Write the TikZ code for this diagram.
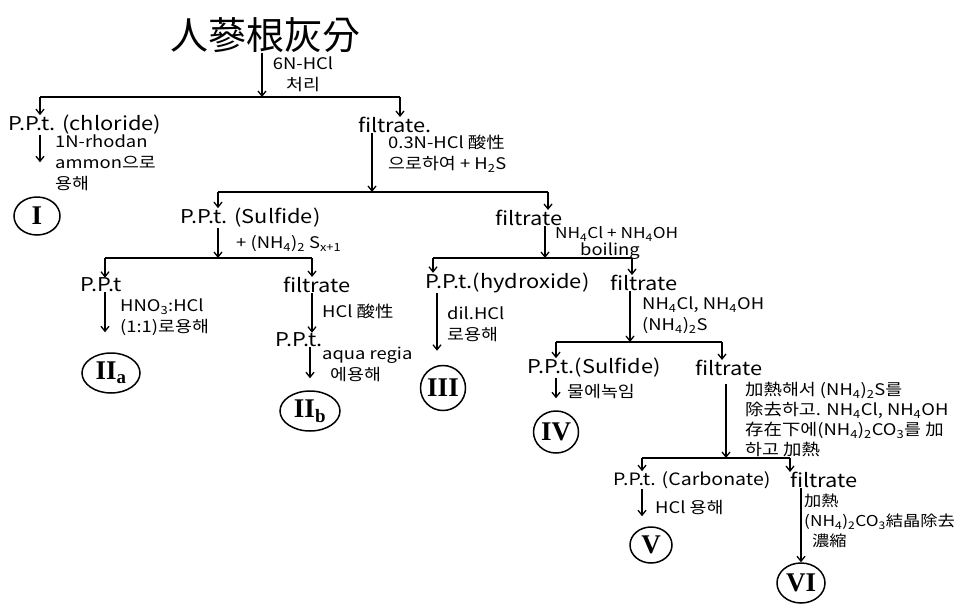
\documentclass[tikz,border=0pt]{standalone}
\usepackage{fontspec}
\setmainfont{Noto Sans CJK KR}[FakeStretch=1.15]
\newfontfamily\titlefont{Noto Sans CJK KR}
\newfontfamily\romanfont{Liberation Serif}
\usetikzlibrary{arrows.meta,shapes.geometric}
\begin{document}
\begin{tikzpicture}[x=1pt,y=-1pt,
  main/.style={font=\fontsize{19}{21}\selectfont, inner sep=0pt, anchor=west},
  lab/.style={font=\fontsize{16}{21}\selectfont, inner sep=0pt, anchor=north west, align=left},
  flow/.style={line width=1.3pt, -{Straight Barb[length=5pt,width=8pt]}},
  bar/.style={line width=1.6pt},
  rom/.style={ellipse, draw, line width=1.5pt, inner sep=0pt, font=\fontsize{27}{28}\romanfont\bfseries\selectfont}
]
\useasboundingbox (0,0) rectangle (966,608);

% title
\node[inner sep=0pt, font=\fontsize{38}{40}\titlefont\selectfont] (title) at (265,35) {人蔘根灰分};
\coordinate (b1) at (262,97);
\coordinate (b1l) at (40,97);
\coordinate (b1r) at (400,97);
\draw[flow] (title.south -| b1) -- (b1);
\node[lab, anchor=north, align=center] (l0) at (303,57) {6N-HCl\\처리};
\draw[bar] (b1l) -- (b1r);

\node[main] (ppt1) at (8,125) {P.P.t. (chloride)};
\node[main] (fil1) at (358,125) {filtrate.};
\draw[flow] (b1l) -- (ppt1.north -| b1l);
\draw[flow] (b1r) -- (fil1.north -| b1r);

% chloride branch
\node[rom, minimum width=46pt, minimum height=38pt] (r1) at (37,216) {I};
\draw[flow, shorten >=34pt] (ppt1.south -| b1l) -- (r1.north -| b1l);
\node[lab] (l1) at (55,135) {1N-rhodan\\ammon으로\\용해};

% filtrate 1
\coordinate (b2) at (372,192);
\coordinate (b2l) at (218,192);
\coordinate (b2r) at (548,192);
\draw[flow] (fil1.south -| b2) -- (b2);
\node[lab] (l2) at (388,135) {0.3N-HCl 酸性\\으로하여 + H\textsubscript{2}S};
\draw[bar] (b2l) -- (b2r);

\node[main] (ppt2) at (180,218) {P.P.t. (Sulfide)};
\node[main] (fil2) at (495,218) {filtrate};
\draw[flow] (b2l) -- (ppt2.north -| b2l);
\draw[flow] (b2r) -- (fil2.north -| b2r);

% sulfide branch
\coordinate (b3) at (218,258);
\coordinate (b3l) at (105,258);
\coordinate (b3r) at (312,258);
\draw[flow] (ppt2.south -| b3) -- (b3);
\node[lab, anchor=west] (l3) at (236,244) {+ (NH\textsubscript{4})\textsubscript{2} S\textsubscript{x+1}};
\draw[bar] (b3l) -- (b3r);

\node[main] (ppt3) at (80,285) {P.P.t};
\node[main] (fil3) at (283,285) {filtrate};
\draw[flow] (b3l) -- (ppt3.north -| b3l);
\draw[flow] (b3r) -- (fil3.north -| b3r);

\node[rom, minimum width=58pt, minimum height=40pt] (r2a) at (111,373) {II\textsubscript{a}};
\draw[flow, shorten >=20pt] (ppt3.south -| b3l) -- (r2a.north -| b3l);
\node[lab] (l4) at (120,299) {HNO\textsubscript{3}:HCl\\(1:1)로용해};

\node[main] (ppt3b) at (275,340) {P.P.t.};
\draw[flow] (fil3.south -| b3r) -- (ppt3b.north -| b3r);
\node[lab, anchor=west] (l5) at (322,311) {HCl 酸性};
\node[rom, minimum width=60pt, minimum height=40pt] (r2b) at (310,411) {II\textsubscript{b}};
\draw[flow, shorten >=12pt] (ppt3b.south -| r2b) -- (r2b.north);
\node[lab] (l6) at (322,347) {aqua regia\\\hspace{8pt}에용해};

% filtrate 2
\coordinate (b4) at (545,258);
\coordinate (b4l) at (433,258);
\coordinate (b4r) at (632,258);
\draw[flow] (fil2.south -| b4) -- (b4);
\node[lab, anchor=west, font=\fontsize{15}{18}\selectfont] (l7) at (555,234) {NH\textsubscript{4}Cl + NH\textsubscript{4}OH};
\node[lab, anchor=base west] (l7b) at (580,255) {boiling};
\draw[bar] (b4l) -- (b4r);

\node[main] (ppt4) at (425,283) {P.P.t.(hydroxide)};
\node[main] (fil4) at (610,283) {filtrate};
\draw[flow] (b4l) -- (ppt4.north -| b4l);
\draw[flow] (b4r) -- (fil4.north -| b4r);

\node[rom, minimum width=45pt, minimum height=45pt] (r3) at (443,388) {III};
\draw[flow, shorten >=14pt] (ppt4.south -| 437,0) -- (r3.north -| 437,0);
\node[lab] (l8) at (447,307) {dil.HCl\\로용해};

% filtrate 4
\coordinate (b5) at (630,342);
\coordinate (b5l) at (556,342);
\coordinate (b5r) at (722,342);
\draw[flow] (fil4.south -| b5) -- (b5);
\node[lab] (l9) at (642,297) {NH\textsubscript{4}Cl, NH\textsubscript{4}OH\\(NH\textsubscript{4})\textsubscript{2}S};
\draw[bar] (b5l) -- (b5r);

\node[main] (ppt5) at (527,368) {P.P.t.(Sulfide)};
\node[main] (fil5) at (695,368) {filtrate};
\draw[flow] (b5l) -- (ppt5.north -| b5l);
\draw[flow] (b5r) -- (fil5.north -| b5r);

\node[rom, minimum width=45pt, minimum height=42pt] (r4) at (556,432) {IV};
\draw[flow, shorten >=12pt] (ppt5.south -| r4) -- (r4.north);
\node[lab, anchor=west] (l10) at (567,392) {물에녹임};

% filtrate 5
\coordinate (b6) at (726,458);
\coordinate (b6l) at (642,458);
\coordinate (b6r) at (790,458);
\draw[flow] ([yshift=-8pt]fil5.south -| b6) -- (b6);
\node[lab, font=\fontsize{16}{20}\selectfont] (l11) at (745,382) {加熱해서 (NH\textsubscript{4})\textsubscript{2}S를\\除去하고. NH\textsubscript{4}Cl, NH\textsubscript{4}OH\\存在下에(NH\textsubscript{4})\textsubscript{2}CO\textsubscript{3}를 加\\하고 加熱};
\draw[bar] (b6l) -- (b6r);

\node[main, font=\fontsize{17}{19}\selectfont] (ppt6) at (613,480) {P.P.t. (Carbonate)};
\node[main] (fil6) at (790,480) {filtrate};
\draw[flow] (b6l) -- (ppt6.north -| b6l);
\draw[flow] (b6r) -- (fil6.north -| b6r);

\node[rom, minimum width=42pt, minimum height=36pt] (r5) at (651,545) {V};
\draw[flow, shorten >=10pt] (ppt6.south -| b6l) -- (r5.north -| b6l);
\node[lab, anchor=west] (l12) at (655,507) {HCl 용해};

\node[rom, minimum width=48pt, minimum height=40pt] (r6) at (801,583) {VI};
\draw[flow] (fil6.south -| r6) -- (r6.north);
\node[lab, font=\fontsize{15}{20}\selectfont] (l13) at (804,494) {加熱\\(NH\textsubscript{4})\textsubscript{2}CO\textsubscript{3}結晶除去\\\hspace{8pt}濃縮};
\end{tikzpicture}
\end{document}
